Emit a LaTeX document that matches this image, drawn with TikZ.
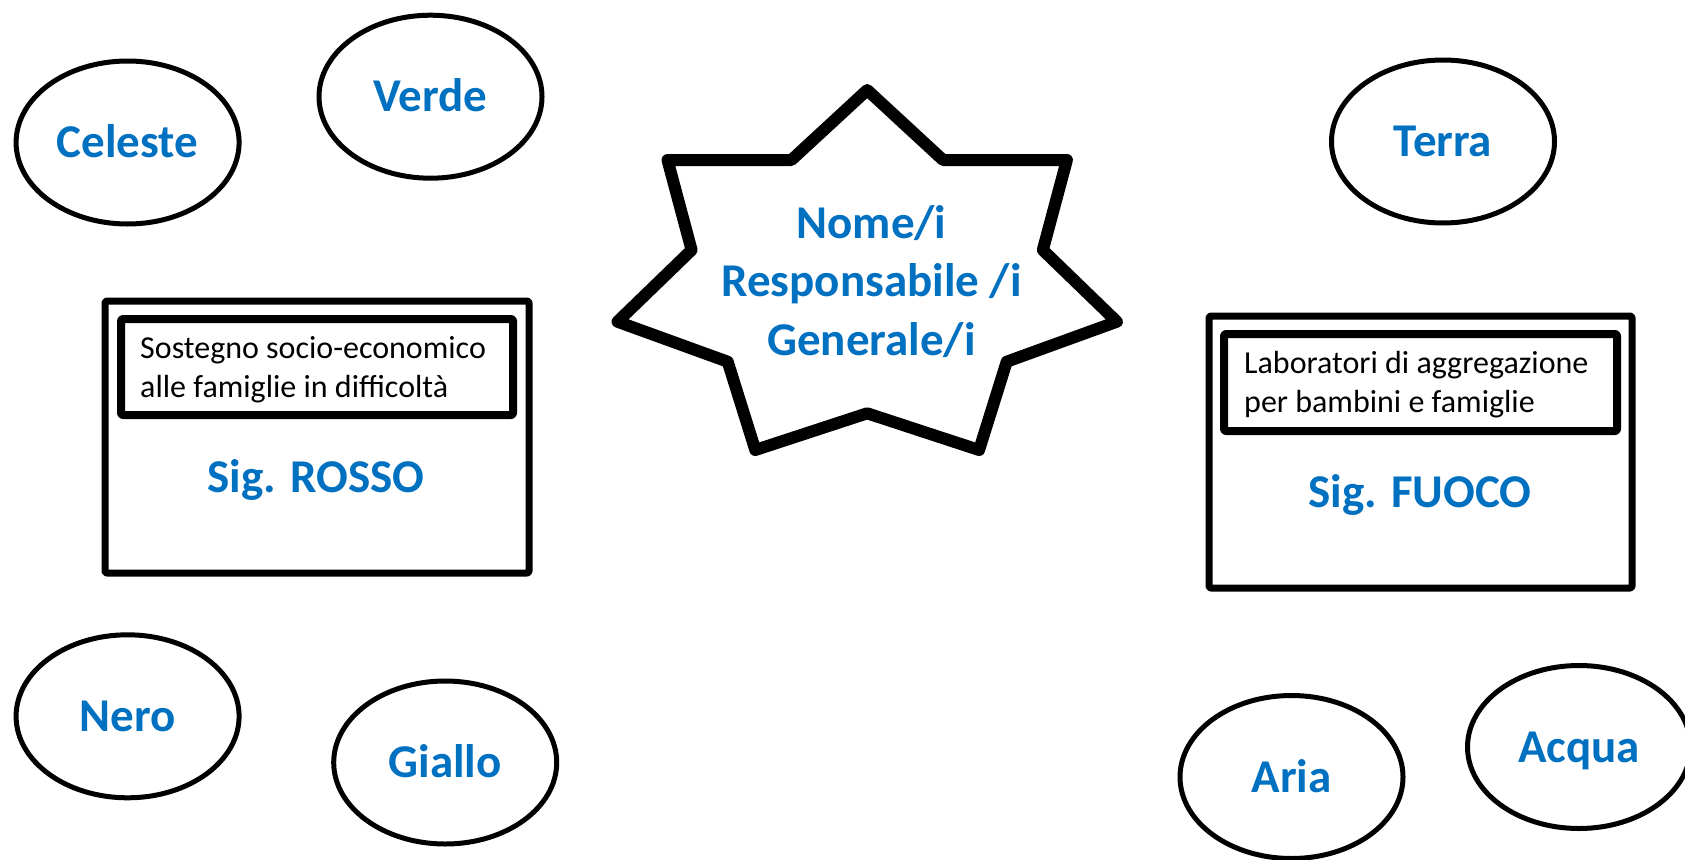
\documentclass[tikz,border=0pt]{standalone}
\usepackage{fontspec}
\setmainfont{Carlito}
\definecolor{titleblue}{HTML}{0070C0}
\tikzset{
  bubble/.style={ellipse, draw=black, line width=5pt, fill=white,
    minimum width=223pt, minimum height=163pt,
    text=titleblue, font=\bfseries\fontsize{47}{54}\selectfont,
    text height=30pt, text depth=0pt, inner sep=0pt},
  outerbox/.style={rectangle, draw=black, line width=7pt, rounded corners=2pt,
    line join=round, inner sep=0pt},
  taskbox/.style={rectangle, draw=black, line width=8pt, rounded corners=2pt,
    line join=round, inner sep=0pt},
  tasktext/.style={anchor=base west, align=left, inner sep=0pt,
    font=\fontsize{32}{38.5}\selectfont},
  nametext/.style={anchor=base, inner sep=0pt, text=titleblue,
    font=\bfseries\fontsize{47}{56}\selectfont},
  starline/.style={draw=black, line width=12pt, line join=round, fill=white},
}
\usetikzlibrary{shapes.geometric}
\begin{document}
\begin{tikzpicture}[x=1pt, y=-1pt]
  \useasboundingbox (0,0) rectangle (1685,859);
  \clip (0,0) rectangle (1685,859);
  \fill[white] (0,0) rectangle (1685,859);

  % seven-pointed star in the middle
  \coordinate (s1) at (867.2,90);
  \coordinate (s2) at (943,160);
  \coordinate (s3) at (1066.9,160);
  \coordinate (s4) at (1042.8,250);
  \coordinate (s5) at (1116.9,321.7);
  \coordinate (s6) at (1006.7,361.7);
  \coordinate (s7) at (979.1,450);
  \coordinate (s8) at (867.2,413.3);
  \coordinate (s9) at (755.3,450);
  \coordinate (s10) at (727.7,361.7);
  \coordinate (s11) at (617.5,321.7);
  \coordinate (s12) at (691.6,250);
  \coordinate (s13) at (667.5,160);
  \coordinate (s14) at (791.4,160);
  \draw[starline] (s1) -- (s2) -- (s3) -- (s4) -- (s5) -- (s6) -- (s7)
    -- (s8) -- (s9) -- (s10) -- (s11) -- (s12) -- (s13) -- (s14) -- cycle;
  \node[anchor=base, align=center, inner sep=0pt, text=titleblue,
    font=\bfseries\fontsize{47}{58.5}\selectfont] (chief) at (871.5,355)
    {Nome/i\\Responsabile /i\\Generale/i};

  % left group
  \node[bubble] (celeste) at (127.6,142.5) {Celeste};
  \node[bubble] (verde) at (430.5,96.7) {Verde};
  \node[bubble] (nero) at (127.6,716.3) {Nero};
  \node[bubble] (giallo) at (445.2,762.5) {Giallo};

  \node[outerbox, minimum width=424pt, minimum height=272pt] (rosso) at (317,437) {};
  \node[taskbox, minimum width=392pt, minimum height=96pt] (rossotask) at (317,367) {};
  \node[tasktext] (rossotxt) at (140,397) {Sostegno socio-economico\\alle famiglie in difficoltà};
  \node[nametext] (rossoname) at (316,492) {Sig. ROSSO};

  % right group
  \node[bubble] (terra) at (1443,141.5) {Terra};
  \node[bubble] (aria) at (1291.5,777) {Aria};
  \node[bubble] (acqua) at (1579,747) {Acqua};

  \node[outerbox, minimum width=423pt, minimum height=272pt] (fuoco) at (1420.5,452) {};
  \node[taskbox, minimum width=393pt, minimum height=97pt] (fuocotask) at (1420.5,382.5) {};
  \node[tasktext] (fuocotxt) at (1244,412) {Laboratori di aggregazione\\per bambini e famiglie};
  \node[nametext] (fuoconame) at (1420,507) {Sig. FUOCO};
\end{tikzpicture}
\end{document}
